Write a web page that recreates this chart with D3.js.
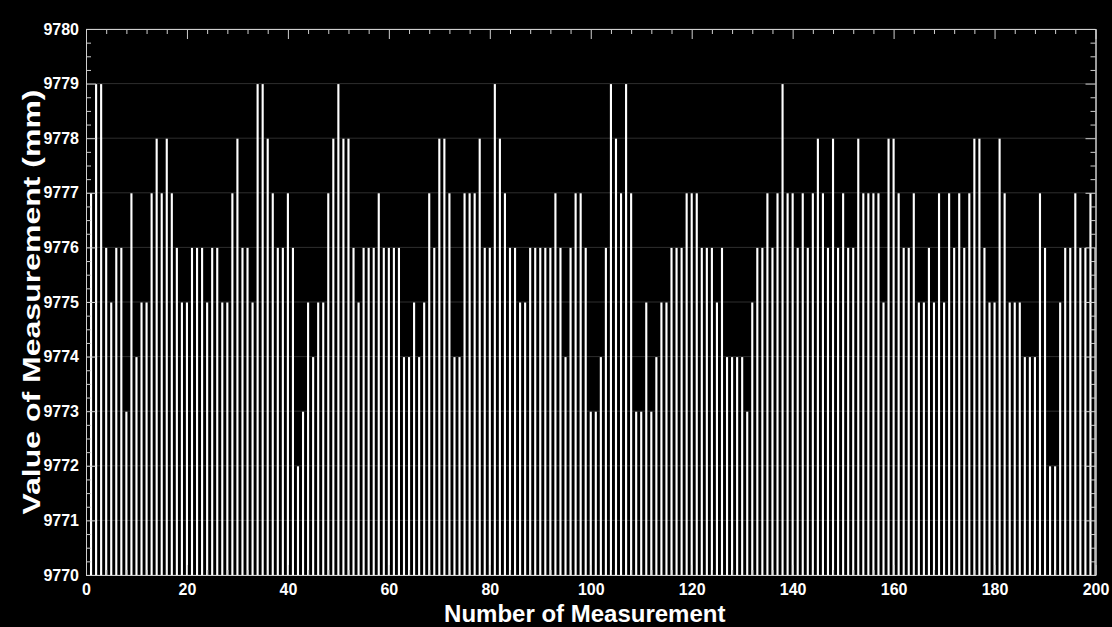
<!DOCTYPE html>
<html>
<head>
<meta charset="utf-8">
<script src="https://cdn.jsdelivr.net/npm/d3@7"></script>
<style>
  html, body { margin: 0; padding: 0; background: #000; }
  svg { display: block; }
  .tick text { font-family: "Liberation Sans", Arial, sans-serif; font-weight: bold; fill: #fff; }
</style>
</head>
<body>
<div id="chart"></div>
<script>
// measured values, one per measurement (1..200)
var values = [
  9777, 9779, 9779, 9776, 9775, 9776, 9776, 9773, 9777, 9774,
  9775, 9775, 9777, 9778, 9777, 9778, 9777, 9776, 9775, 9775,
  9776, 9776, 9776, 9775, 9776, 9776, 9775, 9775, 9777, 9778,
  9776, 9776, 9775, 9779, 9779, 9778, 9777, 9776, 9776, 9777,
  9776, 9772, 9773, 9775, 9774, 9775, 9775, 9777, 9778, 9779,
  9778, 9778, 9776, 9775, 9776, 9776, 9776, 9777, 9776, 9776,
  9776, 9776, 9774, 9774, 9775, 9774, 9775, 9777, 9776, 9778,
  9778, 9777, 9774, 9774, 9777, 9777, 9777, 9778, 9776, 9776,
  9779, 9778, 9777, 9776, 9776, 9775, 9775, 9776, 9776, 9776,
  9776, 9776, 9777, 9776, 9774, 9776, 9777, 9777, 9776, 9773,
  9773, 9774, 9776, 9779, 9778, 9777, 9779, 9777, 9773, 9773,
  9775, 9773, 9774, 9775, 9775, 9776, 9776, 9776, 9777, 9777,
  9777, 9776, 9776, 9776, 9775, 9776, 9774, 9774, 9774, 9774,
  9773, 9775, 9776, 9776, 9777, 9776, 9777, 9779, 9777, 9777,
  9776, 9777, 9776, 9777, 9778, 9777, 9776, 9778, 9776, 9777,
  9776, 9776, 9778, 9777, 9777, 9777, 9777, 9775, 9778, 9778,
  9777, 9776, 9776, 9777, 9775, 9775, 9776, 9775, 9777, 9775,
  9777, 9776, 9777, 9776, 9777, 9778, 9778, 9776, 9775, 9775,
  9778, 9777, 9775, 9775, 9775, 9774, 9774, 9774, 9777, 9776,
  9772, 9772, 9775, 9776, 9776, 9777, 9776, 9776, 9777, 9776
];
var xTicks = [0, 20, 40, 60, 80, 100, 120, 140, 160, 180, 200];
var yTicks = [9770, 9771, 9772, 9773, 9774, 9775, 9776, 9777, 9778, 9779, 9780];
var xTitle = "Number of Measurement";
var yTitle = "Value of Measurement (mm)";

var W = 1112, H = 627;
var margin = { top: 29, right: 16.5, bottom: 52, left: 86 },
    width = W - margin.left - margin.right,
    height = H - margin.top - margin.bottom;

var axisColor = "#cfcfcf";

var svg = d3.select("#chart").append("svg")
    .attr("width", W)
    .attr("height", H);

svg.append("rect")
    .attr("width", W).attr("height", H)
    .attr("fill", "#000");

var g = svg.append("g")
    .attr("transform", "translate(" + margin.left + "," + margin.top + ")");

// scales
var x = d3.scaleLinear().domain([0, 200]).range([0, width]);
var y = d3.scaleLinear().domain([9770, 9780]).range([height, 0]);

svg.append("clipPath").attr("id", "plotclip")
  .append("rect")
    .attr("width", width).attr("height", height);

// horizontal grid
g.append("g")
  .selectAll("line")
  .data(yTicks)
  .enter().append("line")
    .attr("x1", 0).attr("x2", width)
    .attr("y1", function (d) { return y(d); })
    .attr("y2", function (d) { return y(d); })
    .attr("stroke", "#2e2e2e")
    .attr("stroke-width", 1);

// bars (white face, black edge -> thin white strips)
var bw = x(0.42) - x(0);
g.append("g")
    .attr("clip-path", "url(#plotclip)")
  .selectAll("rect")
  .data(values)
  .enter().append("rect")
    .attr("x", function (d, i) { return x(i + 1) - bw / 2; })
    .attr("width", bw)
    .attr("y", function (d) { return y(d) + 0.5; })
    .attr("height", function (d) { return height - y(d) - 0.5; })
    .attr("fill", "#fff");

// minor tick positions
var xMinor = d3.range(0, 201, 4).filter(function (d) { return d % 20 !== 0; });
var yMinor = d3.range(9770, 9780.01, 0.25).filter(function (d) { return Math.abs(d - Math.round(d)) > 1e-6; });

function styleAxis(sel) {
  sel.select(".domain").attr("stroke", axisColor);
  sel.selectAll(".tick line").attr("stroke", axisColor);
}

// bottom axis
g.append("g")
    .attr("transform", "translate(0," + height + ")")
    .call(d3.axisBottom(x).tickValues(xTicks).tickSize(-10).tickSizeOuter(0).tickPadding(9))
    .call(styleAxis)
    .selectAll("text").style("font-size", "16px");
g.append("g")
    .attr("transform", "translate(0," + height + ")")
    .call(d3.axisBottom(x).tickValues(xMinor).tickSize(-5).tickSizeOuter(0).tickFormat(""))
    .call(styleAxis);

// top axis
g.append("g")
    .call(d3.axisTop(x).tickValues(xTicks).tickSize(-10).tickSizeOuter(0).tickFormat(""))
    .call(styleAxis);
g.append("g")
    .call(d3.axisTop(x).tickValues(xMinor).tickSize(-5).tickSizeOuter(0).tickFormat(""))
    .call(styleAxis);

// left axis
g.append("g")
    .call(d3.axisLeft(y).tickValues(yTicks).tickSize(-10).tickSizeOuter(0).tickPadding(7).tickFormat(d3.format("d")))
    .call(styleAxis)
    .selectAll("text").style("font-size", "16px");
g.append("g")
    .call(d3.axisLeft(y).tickValues(yMinor).tickSize(-5).tickSizeOuter(0).tickFormat(""))
    .call(styleAxis);

// right axis
g.append("g")
    .attr("transform", "translate(" + width + ",0)")
    .call(d3.axisRight(y).tickValues(yTicks).tickSize(-10).tickSizeOuter(0).tickFormat(""))
    .call(styleAxis);
g.append("g")
    .attr("transform", "translate(" + width + ",0)")
    .call(d3.axisRight(y).tickValues(yMinor).tickSize(-5).tickSizeOuter(0).tickFormat(""))
    .call(styleAxis);

// axis titles
svg.append("text")
    .attr("x", margin.left + width / 2 - 6)
    .attr("y", 622)
    .attr("text-anchor", "middle")
    .attr("fill", "#fff")
    .style("font-family", "Liberation Sans, Arial, sans-serif")
    .style("font-weight", "bold")
    .style("font-size", "24px")
    .text(xTitle);

// the y title in the picture runs almost the full axis height
svg.append("text")
    .attr("transform", "translate(40," + (margin.top + height / 2) + ") rotate(-90)")
    .attr("text-anchor", "middle")
    .attr("fill", "#fff")
    .attr("textLength", 425)
    .attr("lengthAdjust", "spacingAndGlyphs")
    .style("font-family", "Liberation Sans, Arial, sans-serif")
    .style("font-weight", "bold")
    .style("font-size", "24px")
    .text(yTitle);
</script>
</body>
</html>
